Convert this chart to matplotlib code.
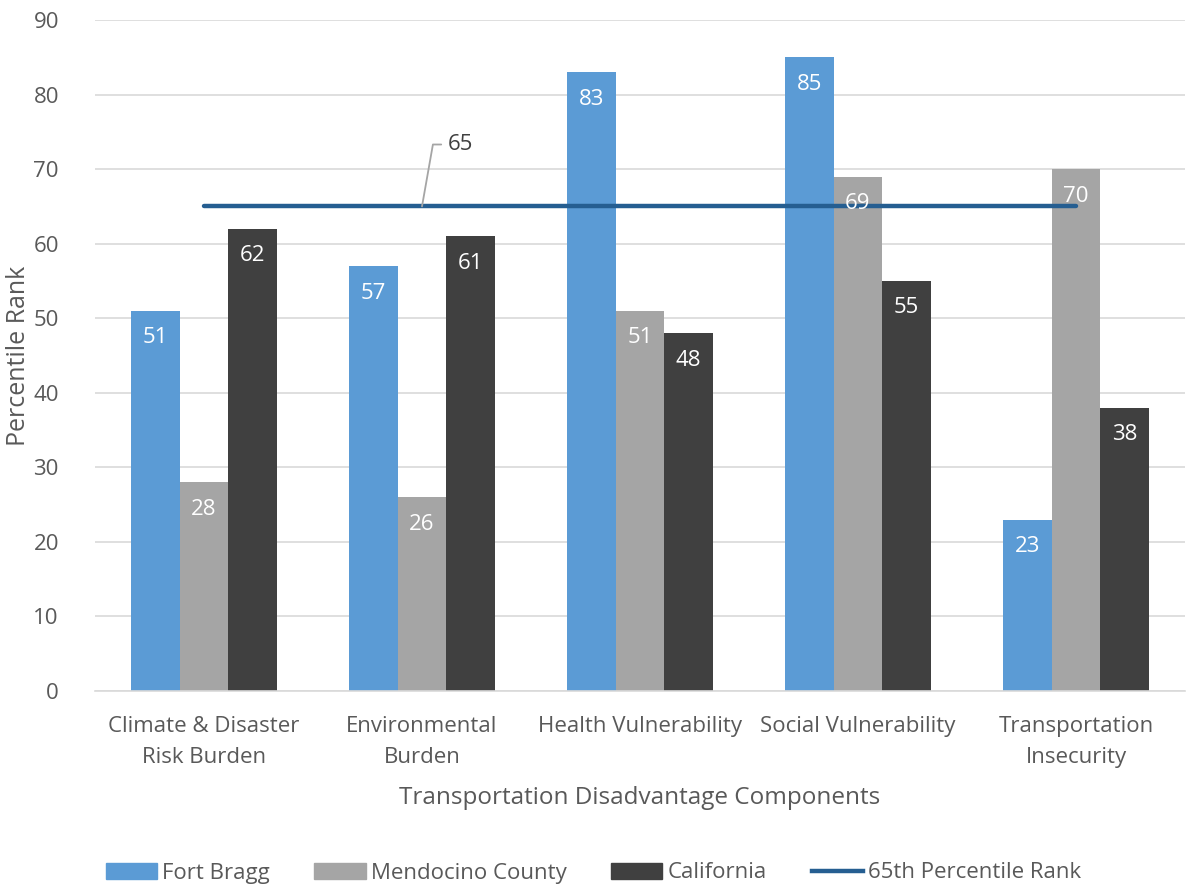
import matplotlib.pyplot as plt
import numpy as np
from matplotlib.patches import Patch
from matplotlib.lines import Line2D

# Datos
categorias = ["Climate & Disaster\nRisk Burden", "Environmental\nBurden",
              "Health Vulnerability", "Social Vulnerability",
              "Transportation\nInsecurity"]
fort_bragg = [51, 57, 83, 85, 23]
mendocino = [28, 26, 51, 69, 70]
california = [62, 61, 48, 55, 38]
umbral = 65
series = ["Fort Bragg", "Mendocino County", "California"]
linea_nombre = "65th Percentile Rank"

plt.rcParams['font.family'] = ['Open Sans', 'DejaVu Sans']
texto = '#595959'
colores = ['#5B9BD5', '#A5A5A5', '#404040']

fig = plt.figure(figsize=(11.87, 8.89), dpi=100)
ax = fig.add_axes([95/1187, 1-691/889, 1090/1187, 671/889])

x = np.arange(len(categorias))
w = 0.2225
for i, (vals, c) in enumerate(zip([fort_bragg, mendocino, california], colores)):
    pos = x + (i-1)*w
    ax.bar(pos, vals, width=w, color=c, zorder=2)
    for p, v in zip(pos, vals):
        ax.annotate(str(v), (p, v), xytext=(0, -27), textcoords='offset pixels',
                    ha='center', va='center', color='white', fontsize=16, zorder=5)

ax.plot([x[0], x[-1]], [umbral, umbral], color='#255E91', lw=3.2, zorder=4,
        solid_capstyle='round')
ax.annotate(str(umbral), xy=(1.0, umbral), xytext=(1.12, 73.3),
            ha='left', va='center', fontsize=16, color='#404040',
            arrowprops=dict(arrowstyle='-', color='#A5A5A5', lw=1.3,
                            connectionstyle='angle,angleA=0,angleB=80,rad=0',
                            shrinkA=3, shrinkB=0), zorder=6)

ax.set_xlim(-0.5, len(categorias)-0.5)
ax.set_ylim(0, 90)
ax.set_yticks(range(0, 91, 10))
ax.set_xticks(x)
ax.set_xticklabels(categorias, linespacing=1.65)
ax.grid(axis='y', color='#D9D9D9', lw=1.2, zorder=0)
for s in ['top', 'right', 'left']:
    ax.spines[s].set_visible(False)
ax.spines['bottom'].set_color('#D9D9D9')
ax.spines['bottom'].set_linewidth(1.2)
ax.tick_params(length=0, labelsize=16, colors=texto, pad=18)
ax.tick_params(axis='y', pad=26)
for t in ax.get_yticklabels():
    t.set_ha('right')
ax.set_ylabel('Percentile Rank', fontsize=18, color=texto)
ax.yaxis.set_label_coords(-0.059, 0.5)
ax.set_xlabel('Transportation Disadvantage Components', fontsize=17.5, color=texto, labelpad=13)

handles = [Patch(color=c) for c in colores] + [Line2D([], [], color='#255E91', lw=3.2)]
fig.legend(handles, series + [linea_nombre], loc='center', bbox_to_anchor=(0.5, 1-873/889),
           ncol=4, frameon=False, fontsize=16, labelcolor=texto, handlelength=2.3,
           handleheight=0.75, handletextpad=0.25, columnspacing=2.0)

fig.savefig('out.png', dpi=100)
